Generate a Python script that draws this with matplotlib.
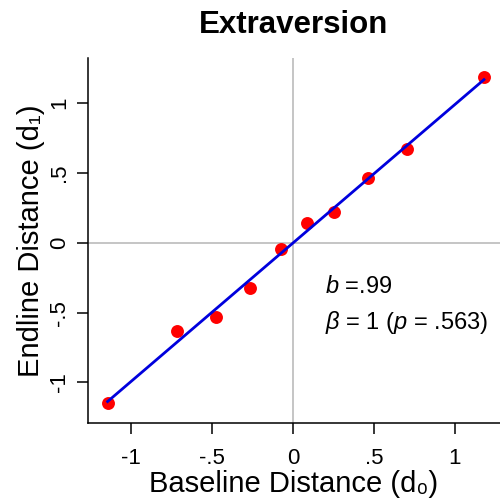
import numpy as np
import matplotlib
matplotlib.use("Agg")
import matplotlib.pyplot as plt

plt.rcParams['font.family'] = ['Liberation Sans', 'DejaVu Sans']
plt.rcParams['mathtext.fontset'] = 'custom'
plt.rcParams['mathtext.rm'] = 'Liberation Sans'
plt.rcParams['mathtext.it'] = 'Liberation Sans:italic'

# baseline vs endline distances
baseline = [-1.144, -0.718, -0.477, -0.265, -0.074, 0.085, 0.253, 0.465, 0.702, 1.179]
endline = [-1.150, -0.632, -0.530, -0.327, -0.045, 0.139, 0.218, 0.461, 0.668, 1.188]
tick_vals = [-1, -0.5, 0, 0.5, 1]
tick_labels = ['-1', '-.5', '0', '.5', '1']

x = np.array(baseline)
y = np.array(endline)
slope, intercept = np.polyfit(x, y, 1)

fig = plt.figure(figsize=(5, 5.01), dpi=100)
ax = fig.add_axes([0.176, 0.156, 0.824, 0.728])

ax.axhline(0, color='#c0c0c0', lw=1.3, zorder=1)
ax.axvline(0, color='#c0c0c0', lw=1.3, zorder=1)

ax.plot(x, y, 'o', color='#ff0000', markersize=9.3, markeredgewidth=0, zorder=2)
xs = np.array([x.min(), x.max()])
ax.plot(xs, intercept + slope * xs, color='#0000dd', lw=2, zorder=3)

ax.set_xlim(-1.265, 1.278)
ax.set_ylim(-1.289, 1.322)

ax.set_xticks(tick_vals)
ax.set_xticklabels(tick_labels)
ax.set_yticks(tick_vals)
ax.set_yticklabels(tick_labels, rotation=90, va='center')
ax.tick_params(direction='out', length=8, width=1.1, labelsize=16)
ax.tick_params(axis='x', pad=10)
ax.tick_params(axis='y', pad=5)

for side in ['top', 'right']:
    ax.spines[side].set_visible(False)
for side in ['left', 'bottom']:
    ax.spines[side].set_linewidth(1.1)

ax.set_xlabel('Baseline Distance (d\u2080)', fontsize=21, labelpad=1)
ax.set_ylabel('Endline Distance (d\u2081)', fontsize=21, labelpad=3)
ax.set_title('Extraversion', fontsize=22.5, fontweight='bold', pad=18)

ax.text(0.2, -0.36, r'$\it{b}$ =.99', fontsize=17)
ax.text(0.2, -0.62, r'$\it{\beta}$ = 1 ($\it{p}$ = .563)', fontsize=17)

fig.savefig('out.png', dpi=100)
